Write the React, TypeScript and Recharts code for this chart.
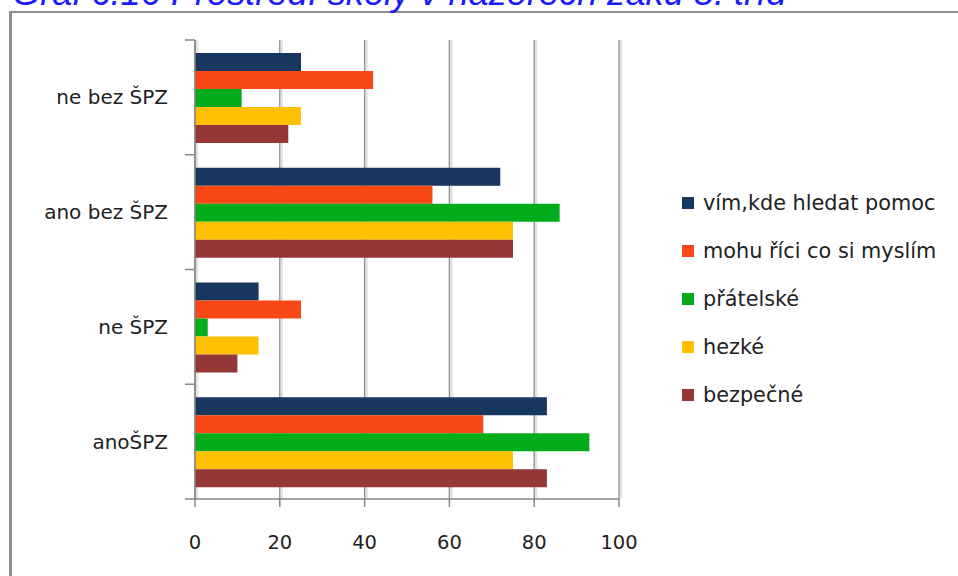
import React from 'react';
import { BarChart, Bar, XAxis, YAxis, CartesianGrid, Legend } from 'recharts';

const titleText = 'Graf č.16 Prostředí školy v názorech žáků 8. tříd';
const categories = ['ne bez ŠPZ', 'ano bez ŠPZ', 'ne ŠPZ', 'anoŠPZ'];
const seriesNames = ['vím,kde hledat pomoc', 'mohu říci co si myslím', 'přátelské', 'hezké', 'bezpečné'];
const vimKdeHledatPomoc = [25, 72, 15, 83];
const mohuRiciCoSiMyslim = [42, 56, 25, 68];
const pratelske = [11, 86, 3, 93];
const hezke = [25, 75, 15, 75];
const bezpecne = [22, 75, 10, 83];
const xTicks = [0, 20, 40, 60, 80, 100];
const seriesColors = ['#17375E', '#F94815', '#03AC1A', '#FFC000', '#953735'];

const seriesValues = [vimKdeHledatPomoc, mohuRiciCoSiMyslim, pratelske, hezke, bezpecne];
const data = categories.map((name, i) => {
  const row: Record<string, any> = { name };
  seriesNames.forEach((s, j) => {
    row[s] = seriesValues[j][i];
  });
  return row;
});

const FONT = '"DejaVu Sans", Verdana, sans-serif';
const AXIS_COLOR = '#868686';
const Y_TICK_SIZE = 10;
const Y_TICK_MARGIN = 17;

const YTick = (props: any) => {
  const { x, y, payload, index } = props;
  const off = payload && payload.offset != null ? payload.offset : 0;
  const axisX = x + Y_TICK_SIZE + Y_TICK_MARGIN;
  return (
    <g>
      <line x1={axisX - Y_TICK_SIZE} x2={axisX} y1={y - off} y2={y - off} stroke={AXIS_COLOR} strokeWidth={1.5} />
      {index === categories.length - 1 ? (
        <line x1={axisX - Y_TICK_SIZE} x2={axisX} y1={y + off} y2={y + off} stroke={AXIS_COLOR} strokeWidth={1.5} />
      ) : null}
      <text x={x} y={y} dy="0.35em" textAnchor="end" fontFamily={FONT} fontSize={20} fill="#222">
        {payload.value}
      </text>
    </g>
  );
};

const GridLine = (props: any) => {
  const { x1, x2, y1, y2 } = props;
  return (
    <g>
      <line x1={x1 + 2} x2={x2 + 2} y1={y1} y2={y2} stroke="#e4e4e4" strokeWidth={2.5} />
      <line x1={x1} x2={x2} y1={y1} y2={y2} stroke="#8c8c8c" strokeWidth={1.3} />
    </g>
  );
};

const LegendContent = (props: any) => {
  const items = [...(props.payload || [])].sort(
    (a: any, b: any) => seriesNames.indexOf(a.value) - seriesNames.indexOf(b.value)
  );
  return (
    <div style={{ fontFamily: FONT, fontSize: 20.8, color: '#222' }}>
      {items.map((p: any) => (
        <div key={p.value} style={{ display: 'flex', alignItems: 'center', height: 48, whiteSpace: 'nowrap' }}>
          <span style={{ display: 'inline-block', width: 12, height: 12, background: p.color, marginRight: 9 }} />
          <span>{p.value}</span>
        </div>
      ))}
    </div>
  );
};

export default function App() {
  return (
    <div style={{ position: 'absolute', left: 0, top: 0, width: 958, height: 576, overflow: 'hidden', background: '#fff' }}>
      <div
        style={{
          position: 'absolute',
          left: 9,
          top: 11,
          width: 1000,
          height: 700,
          borderLeft: '3px solid #8e8e8e',
          borderTop: '2px solid #8e8e8e',
          boxSizing: 'border-box',
        }}
      />
      <svg style={{ position: 'absolute', left: 0, top: 0 }} width={958} height={20}>
        <text x={12} y={5} fontFamily='"Liberation Sans", Arial, sans-serif' fontStyle="italic" fontSize={36.2} fill="#1a1aff">
          {titleText}
        </text>
      </svg>
      <div style={{ position: 'absolute', left: 0, top: 0 }}>
        <BarChart
          width={958}
          height={576}
          data={data}
          layout="vertical"
          margin={{ top: 40, right: 339, bottom: 17, left: 0 }}
          barCategoryGap={13}
          barGap={0}
        >
          <CartesianGrid horizontal={false} vertical={(p: any) => <GridLine key={p.key ?? p.index} {...p} />} />
          <XAxis
            type="number"
            domain={[0, 100]}
            ticks={xTicks}
            height={60}
            tickSize={8}
            tickMargin={28}
            axisLine={{ stroke: AXIS_COLOR, strokeWidth: 1.5 }}
            tickLine={{ stroke: AXIS_COLOR, strokeWidth: 1.5 }}
            tick={{ fontFamily: FONT, fontSize: 19.5, fill: '#222' }}
            interval={0}
          />
          <YAxis
            type="category"
            dataKey="name"
            width={195}
            tickLine={false}
            tickSize={Y_TICK_SIZE}
            tickMargin={Y_TICK_MARGIN}
            axisLine={{ stroke: AXIS_COLOR, strokeWidth: 1.5 }}
            tick={<YTick />}
            interval={0}
          />
          {seriesNames.map((s, j) => (
            <Bar key={s} dataKey={s} fill={seriesColors[j]} isAnimationActive={false} />
          ))}
          <Legend
            layout="vertical"
            align="center"
            verticalAlign="middle"
            content={<LegendContent />}
            wrapperStyle={{ left: 682, top: 179, width: 270 }}
          />
        </BarChart>
      </div>
    </div>
  );
}
